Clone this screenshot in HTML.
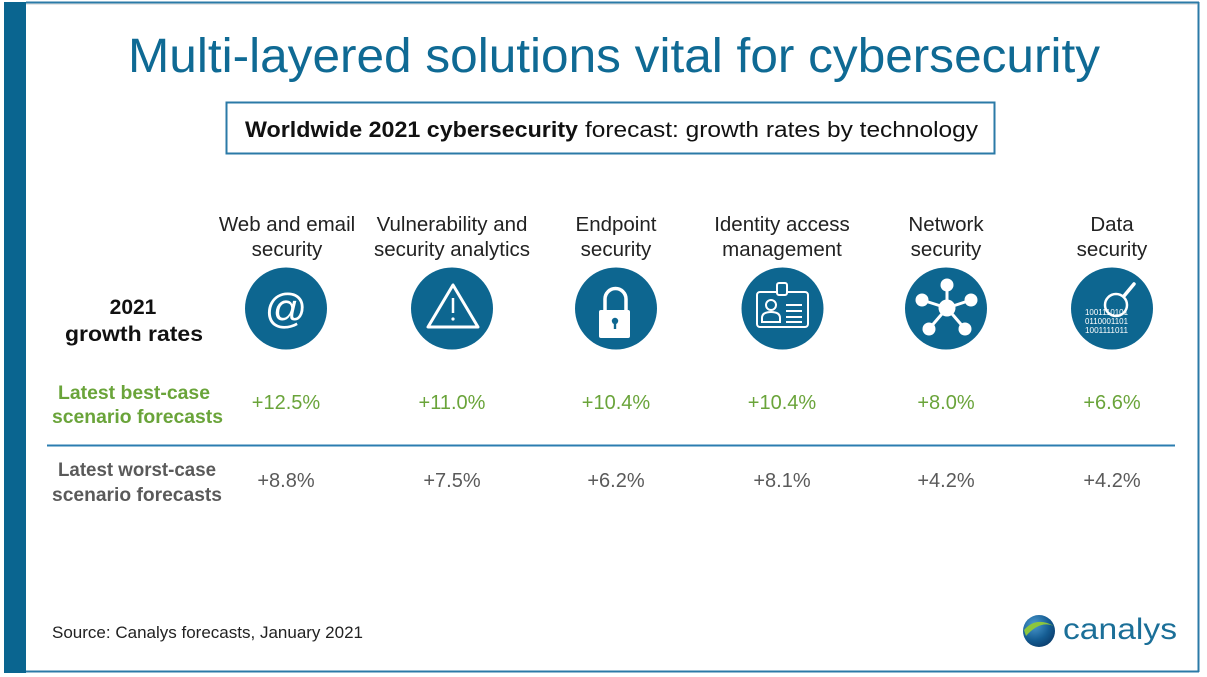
<!DOCTYPE html>
<html><head><meta charset="utf-8">
<style>
html,body{margin:0;padding:0;background:#fff;}
svg{display:block;}
text{font-family:"Liberation Sans",sans-serif;}
</style></head>
<body>
<svg width="1207" height="677" viewBox="0 0 1207 677" xmlns="http://www.w3.org/2000/svg">
<defs>
<radialGradient id="gl" cx="0.35" cy="0.3" r="0.8">
<stop offset="0" stop-color="#4c9ad0"/>
<stop offset="0.6" stop-color="#145c92"/>
<stop offset="1" stop-color="#0a3a68"/>
</radialGradient>
</defs>
<rect width="1207" height="677" fill="#fff"/>
<!-- frame -->
<line x1="26" y1="4" x2="1197" y2="4" stroke="#e6e6e6" stroke-width="2"/>
<line x1="26" y1="2.5" x2="1199" y2="2.5" stroke="#2b7aa7" stroke-width="2"/>
<line x1="1198.5" y1="2" x2="1198.5" y2="672" stroke="#2b7aa7" stroke-width="2"/>
<line x1="26" y1="671.5" x2="1199" y2="671.5" stroke="#2b7aa7" stroke-width="2"/>
<rect x="4" y="2" width="22" height="671" fill="#0a6590"/>

<!-- title -->
<text x="128" y="72" font-size="48" fill="#0f6a94" textLength="972" lengthAdjust="spacingAndGlyphs">Multi-layered solutions vital for cybersecurity</text>

<!-- subtitle box -->
<rect x="226.5" y="102.5" width="768" height="51" fill="#fff" stroke="#2b7aa7" stroke-width="2"/>
<text x="245" y="137" font-size="22" font-weight="bold" fill="#111" textLength="333" lengthAdjust="spacingAndGlyphs">Worldwide 2021 cybersecurity</text>
<text x="585" y="137" font-size="22" fill="#111" textLength="393" lengthAdjust="spacingAndGlyphs">forecast: growth rates by technology</text>

<!-- headers -->
<g font-size="20.5" fill="#222" text-anchor="middle">
<text x="287" y="231">Web and email</text><text x="287" y="256">security</text>
<text x="452" y="231">Vulnerability and</text><text x="452" y="256">security analytics</text>
<text x="616" y="231">Endpoint</text><text x="616" y="256">security</text>
<text x="782" y="231">Identity access</text><text x="782" y="256">management</text>
<text x="946" y="231">Network</text><text x="946" y="256">security</text>
<text x="1112" y="231">Data</text><text x="1112" y="256">security</text>
</g>

<!-- row label -->
<text x="133" y="314" font-size="21" font-weight="bold" fill="#111" text-anchor="middle">2021</text>
<text x="65" y="341" font-size="21" font-weight="bold" fill="#111" textLength="138" lengthAdjust="spacingAndGlyphs">growth rates</text>

<!-- icons -->
<g fill="#0d6690">
<circle cx="286" cy="308.5" r="41"/>
<circle cx="452" cy="308.5" r="41"/>
<circle cx="616" cy="308.5" r="41"/>
<circle cx="782.5" cy="308.5" r="41"/>
<circle cx="946" cy="308.5" r="41"/>
<circle cx="1112" cy="308.5" r="41"/>
</g>
<!-- @ -->
<text x="286" y="323" font-size="42" fill="#fff" text-anchor="middle">@</text>
<!-- warning -->
<path d="M453 285 L428 327 L478 327 Z" fill="none" stroke="#fff" stroke-width="3" stroke-linejoin="round"/>
<line x1="453" y1="298" x2="453" y2="313" stroke="#fff" stroke-width="2.5"/>
<circle cx="453" cy="319" r="1.6" fill="#fff"/>
<!-- lock -->
<path d="M605 311 V299 A10.5 10.5 0 0 1 626 299 V311" fill="none" stroke="#fff" stroke-width="3.5"/>
<rect x="599" y="310" width="31" height="28" rx="2" fill="#fff"/>
<circle cx="615" cy="321" r="3.2" fill="#0d6690"/>
<rect x="613.8" y="322" width="2.4" height="7" fill="#0d6690"/>
<!-- id badge -->
<rect x="757" y="292" width="51" height="35" rx="3" fill="none" stroke="#fff" stroke-width="2"/>
<rect x="777" y="283" width="10" height="12" rx="2" fill="#0d6690" stroke="#fff" stroke-width="2"/>
<circle cx="771" cy="305" r="5" fill="none" stroke="#fff" stroke-width="2"/>
<path d="M762 322 V318 Q762 312 771 312 Q780 312 780 318 V322 Z" fill="none" stroke="#fff" stroke-width="2"/>
<g stroke="#fff" stroke-width="2">
<line x1="786" y1="305" x2="802" y2="305"/>
<line x1="786" y1="311" x2="802" y2="311"/>
<line x1="786" y1="317" x2="802" y2="317"/>
<line x1="786" y1="322" x2="802" y2="322"/>
</g>
<!-- network -->
<g stroke="#fff" stroke-width="3">
<line x1="947" y1="308" x2="947" y2="285"/>
<line x1="947" y1="308" x2="922" y2="300"/>
<line x1="947" y1="308" x2="971" y2="300"/>
<line x1="947" y1="308" x2="929" y2="329"/>
<line x1="947" y1="308" x2="965" y2="329"/>
</g>
<g fill="#fff">
<circle cx="947" cy="308" r="8.5"/>
<circle cx="947" cy="285" r="6.5"/>
<circle cx="922" cy="300" r="6.5"/>
<circle cx="971" cy="300" r="6.5"/>
<circle cx="929" cy="329" r="6.5"/>
<circle cx="965" cy="329" r="6.5"/>
</g>
<!-- data -->
<g font-family="Liberation Serif,serif" font-size="8.5" fill="#fff">
<text x="1085" y="315" textLength="43" lengthAdjust="spacingAndGlyphs">1001110101</text>
<text x="1085" y="324" textLength="43" lengthAdjust="spacingAndGlyphs">0110001101</text>
<text x="1085" y="333" textLength="43" lengthAdjust="spacingAndGlyphs">1001111011</text>
</g>
<circle cx="1116" cy="305" r="11" fill="none" stroke="#fff" stroke-width="2.5"/>
<line x1="1124" y1="296" x2="1134" y2="284" stroke="#fff" stroke-width="3.5" stroke-linecap="round"/>

<!-- best-case row -->
<g font-weight="bold" fill="#6aa43a" font-size="19">
<text x="58" y="399" textLength="152" lengthAdjust="spacingAndGlyphs">Latest best-case</text>
<text x="52" y="423" textLength="171" lengthAdjust="spacingAndGlyphs">scenario forecasts</text>
</g>
<g font-size="20" fill="#6aa43a" text-anchor="middle">
<text x="286" y="409">+12.5%</text>
<text x="452" y="409">+11.0%</text>
<text x="616" y="409">+10.4%</text>
<text x="782" y="409">+10.4%</text>
<text x="946" y="409">+8.0%</text>
<text x="1112" y="409">+6.6%</text>
</g>
<line x1="47" y1="445.5" x2="1175" y2="445.5" stroke="#2b7db0" stroke-width="2"/>

<!-- worst-case row -->
<g font-weight="bold" fill="#5a5a5a" font-size="19">
<text x="58" y="476" textLength="158" lengthAdjust="spacingAndGlyphs">Latest worst-case</text>
<text x="52" y="501" textLength="170" lengthAdjust="spacingAndGlyphs">scenario forecasts</text>
</g>
<g font-size="20" fill="#5a5a5a" text-anchor="middle">
<text x="286" y="487">+8.8%</text>
<text x="452" y="487">+7.5%</text>
<text x="616" y="487">+6.2%</text>
<text x="782" y="487">+8.1%</text>
<text x="946" y="487">+4.2%</text>
<text x="1112" y="487">+4.2%</text>
</g>

<!-- source -->
<text x="52" y="638" font-size="16.5" fill="#222" textLength="311" lengthAdjust="spacingAndGlyphs">Source: Canalys forecasts, January 2021</text>

<!-- logo -->
<circle cx="1039" cy="631" r="16" fill="url(#gl)"/>
<path d="M1024 630 Q1036 616 1054 626 Q1040 620 1026 636 Z" fill="#8cc63e"/>
<text x="1063" y="639" font-size="30" fill="#1b6f98" textLength="114" lengthAdjust="spacingAndGlyphs">canalys</text>
</svg>
</body></html>
